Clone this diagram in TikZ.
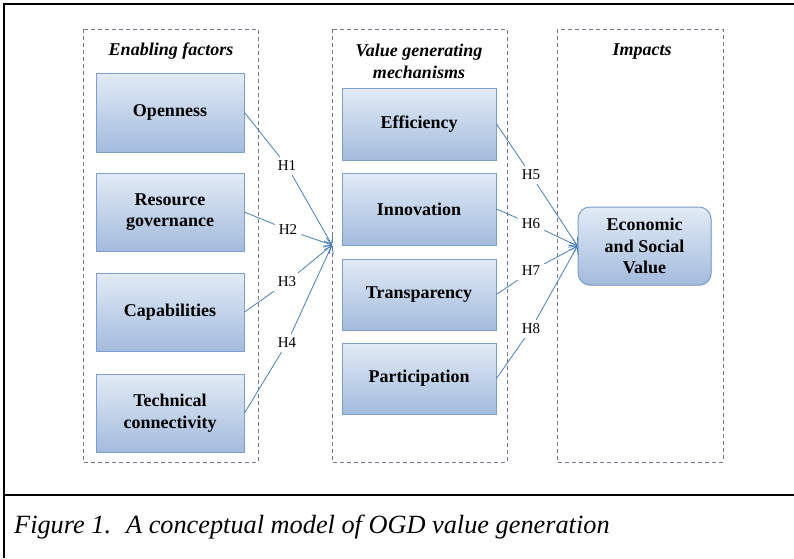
\documentclass[tikz,border=0pt]{standalone}
\usepackage{fontspec}
\setmainfont{Liberation Serif}
\usetikzlibrary{arrows.meta,shadows}
\definecolor{boxtop}{HTML}{E2EBF6}
\definecolor{boxbot}{HTML}{A3BBDD}
\definecolor{boxline}{HTML}{7E9ECB}
\definecolor{conn}{HTML}{4A7EBB}
\definecolor{dashc}{HTML}{6E7A8C}
\tikzset{
  stepbox/.style={draw=boxline, line width=1pt, top color=boxtop, bottom color=boxbot,
    font=\fontsize{18}{21.5}\selectfont\bfseries, align=center, inner sep=0pt,
    drop shadow={shadow xshift=1pt, shadow yshift=-1.2pt, opacity=0.25}},
  groupbox/.style={draw=dashc, dashed, dash pattern=on 4pt off 3pt, line width=0.8pt},
  grouptitle/.style={font=\fontsize{18}{22}\selectfont\bfseries\itshape, align=center},
  hlab/.style={font=\fontsize{15}{17}\selectfont, inner sep=4pt},
  conn/.style={draw=conn, line width=0.8pt},
  connarr/.style={conn, -{Straight Barb[length=7pt,width=10pt]}},
}
\begin{document}
\begin{tikzpicture}[x=1pt,y=-1pt]
\useasboundingbox (0,0) rectangle (794,558);
% outer frame
\draw[line width=1.5pt] (794,4) -- (4,4) -- (4,558);
\draw[line width=1.5pt] (4,495) -- (794,495);
% group boxes
\draw[groupbox] (83,29) rectangle (258,462);
\draw[groupbox] (332,29) rectangle (507,462);
\draw[groupbox] (557,29) rectangle (723,462);
\node[grouptitle] (t1) at (171,51) {Enabling factors};
\node[grouptitle] (t2) at (419,61) {Value generating\\mechanisms};
\node[grouptitle] (t3) at (642,52) {Impacts};
% left boxes
\node[stepbox, minimum width=148pt, minimum height=79pt] (open) at (170,112.5) {Openness};
\node[stepbox, minimum width=148pt, minimum height=78pt] (res) at (170,212) {Resource\\governance};
\node[stepbox, minimum width=148pt, minimum height=78pt] (cap) at (170,312) {Capabilities};
\node[stepbox, minimum width=148pt, minimum height=78pt] (tech) at (170,413) {Technical\\connectivity};
% middle boxes
\node[stepbox, minimum width=154pt, minimum height=72pt] (eff) at (419,124) {Efficiency};
\node[stepbox, minimum width=154pt, minimum height=72pt] (inn) at (419,209) {Innovation};
\node[stepbox, minimum width=154pt, minimum height=71pt] (tra) at (419,294.5) {Transparency};
\node[stepbox, minimum width=154pt, minimum height=71pt] (par) at (419,378.5) {Participation};
% impact
\node[stepbox, rounded corners=12pt, minimum width=133pt, minimum height=78pt] (econ) at (644.5,246) {Economic\\and Social\\Value};
% hypothesis labels
\coordinate (tipL) at (332,245);
\node[hlab] (h1) at (287,166) {H1};
\node[hlab] (h2) at (288,230) {H2};
\node[hlab] (h3) at (287,282) {H3};
\node[hlab] (h4) at (287,343) {H4};
\node[hlab] (h5) at (531,175) {H5};
\node[hlab] (h6) at (531,224) {H6};
\node[hlab] (h7) at (531,271) {H7};
\node[hlab] (h8) at (531,329) {H8};
% connectors
\draw[conn] (open.east) -- (h1); \draw[connarr] (h1) -- (tipL);
\draw[conn] (res.east) -- (h2); \draw[connarr] (h2) -- (tipL);
\draw[conn] (cap.east) -- (h3); \draw[connarr] (h3) -- (tipL);
\draw[conn] (tech.east) -- (h4); \draw[connarr] (h4) -- (tipL);
\draw[conn] (eff.east) -- (h5); \draw[connarr] (h5) -- (econ.west);
\draw[conn] (inn.east) -- (h6); \draw[connarr] (h6) -- (econ.west);
\draw[conn] (tra.east) -- (h7); \draw[connarr] (h7) -- (econ.west);
\draw[conn] (par.east) -- (h8); \draw[connarr] (h8) -- (econ.west);
% caption
\node[anchor=west, font=\fontsize{26.3}{29}\selectfont\itshape, inner sep=0pt] (cap1) at (14,527) {Figure 1.\hspace{15pt}A conceptual model of OGD value generation};
\end{tikzpicture}
\end{document}
